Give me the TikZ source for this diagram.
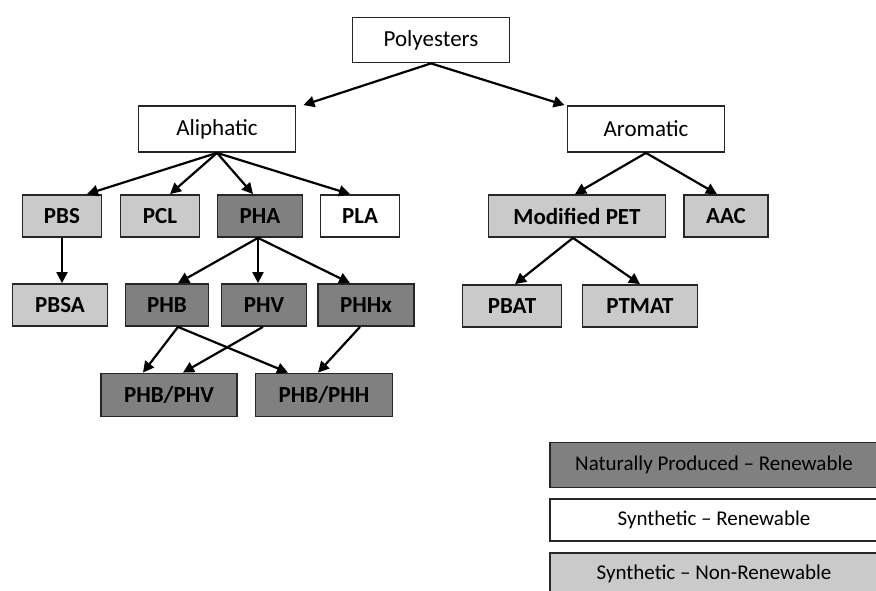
\documentclass[tikz,border=0pt]{standalone}
\usepackage{fontspec}
\setmainfont{Carlito}
\usetikzlibrary{arrows.meta,calc}
\definecolor{darkg}{HTML}{808080}
\definecolor{lightg}{HTML}{CACACA}
\definecolor{edgec}{HTML}{262626}
\tikzset{
  x=1pt, y=-1pt,
  box/.style={draw=edgec, line width=1.8pt, inner sep=0pt, font=\fontsize{23}{27}\selectfont\bfseries},
  whitebox/.style={box, fill=white},
  darkbox/.style={box, fill=darkg},
  lightbox/.style={box, fill=lightg},
  regtext/.style={font=\fontsize{23}{27}\selectfont},
  legtext/.style={font=\fontsize{21}{25}\selectfont},
  arr/.style={-{Triangle[length=11pt,width=11pt]}, line width=2.2pt, draw=black},
}
\begin{document}
\begin{tikzpicture}
\useasboundingbox (0,0) rectangle (876,590);
\clip (0,0) rectangle (876,590);
\fill[white] (0,0) rectangle (876,590);
% top levels
\node[whitebox, regtext, minimum width=157pt, minimum height=45pt] (poly) at (431,40) {Polyesters};
\node[whitebox, regtext, minimum width=157pt, minimum height=46pt] (ali) at (217,129) {Aliphatic};
\node[whitebox, regtext, minimum width=157pt, minimum height=46pt] (aro) at (646,129) {Aromatic};
% second row
\node[lightbox, minimum width=79pt, minimum height=42pt] (pbs) at (62,216) {PBS};
\node[lightbox, minimum width=79pt, minimum height=42pt] (pcl) at (160,216) {PCL};
\node[darkbox, minimum width=85pt, minimum height=42pt] (pha) at (260,216) {PHA};
\node[whitebox, minimum width=79pt, minimum height=42pt] (pla) at (360,216) {PLA};
\node[lightbox, minimum width=177pt, minimum height=42pt] (mpet) at (577,216) {Modified PET};
\node[lightbox, minimum width=84pt, minimum height=42pt] (aac) at (726,216) {AAC};
% third row
\node[lightbox, minimum width=95pt, minimum height=42pt] (pbsa) at (60,305) {PBSA};
\node[darkbox, minimum width=83pt, minimum height=42pt] (phb) at (167,305) {PHB};
\node[darkbox, minimum width=85pt, minimum height=42pt] (phv) at (264,305) {PHV};
\node[darkbox, minimum width=96pt, minimum height=42pt] (phhx) at (366,305) {PHHx};
\node[lightbox, minimum width=99pt, minimum height=42pt] (pbat) at (512,306) {PBAT};
\node[lightbox, minimum width=115pt, minimum height=42pt] (ptmat) at (640,306) {PTMAT};
% fourth row
\node[darkbox, minimum width=136pt, minimum height=43pt] (phbphv) at (169,395) {PHB/PHV};
\node[darkbox, minimum width=137pt, minimum height=43pt] (phbphh) at (324,395) {PHB/PHH};
% legend
\node[darkbox, legtext, minimum width=328pt, minimum height=45pt] (lg1) at (714,465) {Naturally Produced -- Renewable};
\node[whitebox, legtext, minimum width=328pt, minimum height=42pt] (lg2) at (714,520) {Synthetic -- Renewable};
\node[lightbox, legtext, minimum width=328pt, minimum height=42pt] (lg3) at (714,574) {Synthetic -- Non-Renewable};
% connectors
\draw[arr] (poly.south) -- ([xshift=7pt]ali.north east);
\draw[arr] (poly.south) -- ([xshift=-2pt]aro.north west);
\draw[arr] (ali.south) -- ([xshift=25pt]pbs.north);
\draw[arr] (ali.south) -- ([xshift=10pt]pcl.north);
\draw[arr] (ali.south) -- ([xshift=-7pt]pha.north);
\draw[arr] (ali.south) -- ([xshift=-10pt]pla.north);
\draw[arr] (aro.south) -- ([xshift=-2pt]mpet.north);
\draw[arr] (aro.south) -- ([xshift=-9pt]aac.north);
\draw[arr] (pbs.south) -- (pbs.south |- pbsa.north);
\draw[arr] ([xshift=-2pt]pha.south) -- ([xshift=11pt]phb.north);
\draw[arr] ([xshift=-2pt]pha.south) -- ([xshift=-6pt]phv.north);
\draw[arr] ([xshift=-2pt]pha.south) -- ([xshift=-16pt]phhx.north);
\draw[arr] ([xshift=-4pt]mpet.south) -- ([xshift=3pt]pbat.north);
\draw[arr] ([xshift=-4pt]mpet.south) -- (ptmat.north);
\draw[arr] ([xshift=11pt]phb.south) -- ([xshift=-26pt]phbphv.north);
\draw[arr] ([xshift=11pt]phb.south) -- ([xshift=-36pt]phbphh.north);
\draw[arr] ([xshift=-1pt]phv.south) -- ([xshift=14pt]phbphv.north);
\draw[arr] ([xshift=-6pt]phhx.south) -- ([xshift=-6pt]phbphh.north);
\end{tikzpicture}
\end{document}
